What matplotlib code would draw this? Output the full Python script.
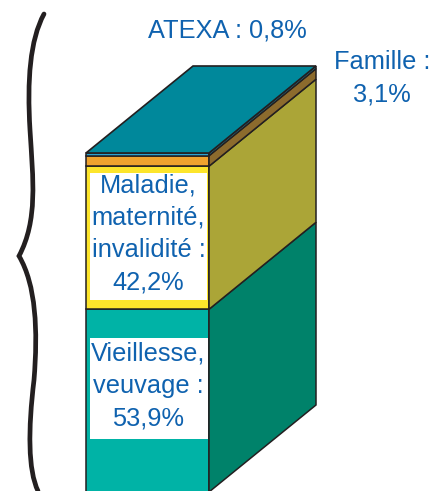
import matplotlib
matplotlib.use("Agg")
import matplotlib.pyplot as plt
from matplotlib.patches import Polygon, Rectangle, PathPatch
from matplotlib.path import Path

# Share of each branch, stacked from the bottom up
branches = ["Vieillesse", "Maladie", "Famille", "ATEXA"]
shares = [53.9, 42.2, 3.1, 0.8]
labels = [
    "Vieillesse,\nveuvage :\n53,9%",
    "Maladie,\nmaternité,\ninvalidité :\n42,2%",
    "Famille :\n3,1%",
    "ATEXA : 0,8%",
]

front_colors = ["#00B3A6", "#FDE52B", "#F0A32E", "#2BA3D1"]
side_colors = ["#00826A", "#ABA537", "#8C6B2D", "#1E7F9A"]
top_color = "#00889B"
edge = "#231F20"
blue = "#0F62AF"

plt.rcParams["font.family"] = ["Liberation Sans", "DejaVu Sans"]

fig = plt.figure(figsize=(4.37, 4.91), dpi=100)
ax = fig.add_axes([0, 0, 1, 1])
# x in pixels, y in percent of the bar
ppp = 3.39  # pixels per percent
ax.set_xlim(0, 437)
ax.set_ylim(1 / ppp, 492 / ppp)
ax.axis("off")

x0, width = 86, 123
dx, dy = 107, 87 / ppp
x1 = x0 + width

bottom = 0
tops = []
for val, fc, sc in zip(shares, front_colors, side_colors):
    top = bottom + val
    ax.add_patch(Rectangle((x0, bottom), width, val, fc=fc, ec=edge, lw=1.1, zorder=2))
    side = [(x1, bottom), (x1 + dx, bottom + dy), (x1 + dx, top + dy), (x1, top)]
    ax.add_patch(Polygon(side, closed=True, fc=sc, ec=edge, lw=1.1, zorder=2))
    tops.append((bottom, top))
    bottom = top

total = bottom
roof = [(x0, total), (x0 + dx, total + dy), (x1 + dx, total + dy), (x1, total)]
ax.add_patch(Polygon(roof, closed=True, fc=top_color, ec=edge, lw=1.2, zorder=3))

# white label boxes on the two large blocks
vb, vt = tops[0]
ax.add_patch(Rectangle((x0 + 4, vb + 53 / ppp), width - 5, 101 / ppp,
                       fc="white", ec="none", zorder=3))
mb, mt = tops[1]
ax.add_patch(Rectangle((x0 + 4, mb + 9 / ppp), width - 6, (mt - mb) - 16 / ppp,
                       fc="white", ec="none", zorder=3))

txt = dict(color=blue, fontsize=18.3, ha="center", va="center", zorder=4,
           linespacing=1.43)
ax.text(x0 + width / 2 + 1, vb + 106 / ppp, labels[0], **txt)
ax.text(x0 + width / 2 + 1, (mb + mt) / 2 + 4 / ppp, labels[1], **txt)
ax.text(382, total + dy - 12 / ppp, labels[2], **txt)
ax.text(227, total + dy + 36 / ppp, labels[3], **txt)

# curly brace on the left
pts = [
    (44, 14),
    (30, 40), (27, 80), (30, 130),
    (33, 180), (38, 220), (19, 256),
    (36, 285), (38, 330), (34, 380),
    (28, 430), (28, 470), (38, 491),
]
codes = [Path.MOVETO] + [Path.CURVE4] * 12
brace = Path([(px, (492 - py) / ppp) for px, py in pts], codes)
ax.add_patch(PathPatch(brace, fc="none", ec=edge, lw=3.4, capstyle="round",
                       joinstyle="miter", zorder=2))

fig.savefig("out.png", dpi=100)
